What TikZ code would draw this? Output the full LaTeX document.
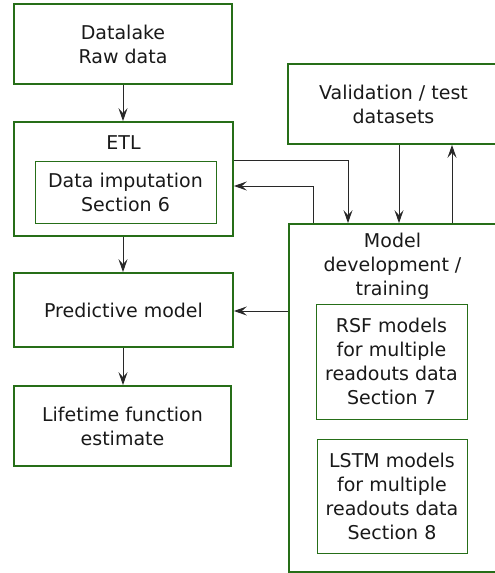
\documentclass[tikz,border=0pt]{standalone}
\usepackage{fontspec}
\setmainfont{DejaVu Sans}
\usetikzlibrary{arrows.meta}
\definecolor{boxgreen}{RGB}{38,110,24}
\definecolor{txt}{RGB}{25,25,25}
\definecolor{arrowc}{RGB}{40,40,40}
\begin{document}
\begin{tikzpicture}[x=1pt,y=-1pt,
  outerbox/.style={draw=boxgreen,line width=1.7pt,rectangle,inner sep=0pt,align=center,text=txt},
  innerbox/.style={draw=boxgreen,line width=0.9pt,rectangle,inner sep=0pt,align=center,text=txt},
  lbl/.style={inner sep=0pt,align=center,text=txt},
  arr/.style={draw=arrowc,line width=1pt,-{Stealth[length=13pt,width=9pt,inset=5pt]}},
  every node/.style={font=\fontsize{19}{24}\selectfont}]
\useasboundingbox (0,0) rectangle (495,573);

\node[outerbox,minimum width=218pt,minimum height=80pt] (dl) at (123,44) {Datalake\\Raw data};
\node[outerbox,minimum width=219pt,minimum height=114pt] (etl) at (123.5,179) {};
\node[lbl] (etllbl) at (123.5,143) {ETL};
\node[innerbox,minimum width=181pt,minimum height=62pt] (imp) at (125.5,192) {Data imputation\\Section 6};
\node[outerbox,minimum width=219pt,minimum height=74pt] (pm) at (123.5,310) {Predictive model};
\node[outerbox,minimum width=217pt,minimum height=80pt] (lf) at (122.5,426) {Lifetime function\\estimate};

\node[outerbox,minimum width=211pt,minimum height=80pt] (val) at (393.5,104) {Validation / test\\datasets};
\node[outerbox,minimum width=207pt,minimum height=348pt] (md) at (392.5,398) {};
\node[lbl] (mdlbl) at (392.5,266) {Model\\development /\\training};
\node[innerbox,minimum width=151pt,minimum height=115pt] (rsf) at (391.5,361.5) {RSF models\\for multiple\\readouts data\\Section 7};
\node[innerbox,minimum width=150pt,minimum height=114pt] (lstm) at (392,496) {LSTM models\\for multiple\\readouts data\\Section 8};

\coordinate (ya) at (0,160);
\coordinate (yb) at (0,186);
\coordinate (yc) at (0,311);
\coordinate (xa) at (348,0);
\coordinate (xb) at (313,0);
\coordinate (xc) at (399,0);
\coordinate (xd) at (452,0);
\coordinate (xe) at (123,0);

\draw[arr] (dl.south -| xe) -- (etl.north -| xe);
\draw[arr] (etl.south -| xe) -- (pm.north -| xe);
\draw[arr] (pm.south -| xe) -- (lf.north -| xe);
\draw[arr] (etl.east |- ya) -| (md.north -| xa);
\draw[arr] (md.north -| xb) |- (etl.east |- yb);
\draw[arr] (val.south -| xc) -- (md.north -| xc);
\draw[arr] (md.north -| xd) -- (val.south -| xd);
\draw[arr] (md.west |- yc) -- (pm.east |- yc);
\end{tikzpicture}
\end{document}
